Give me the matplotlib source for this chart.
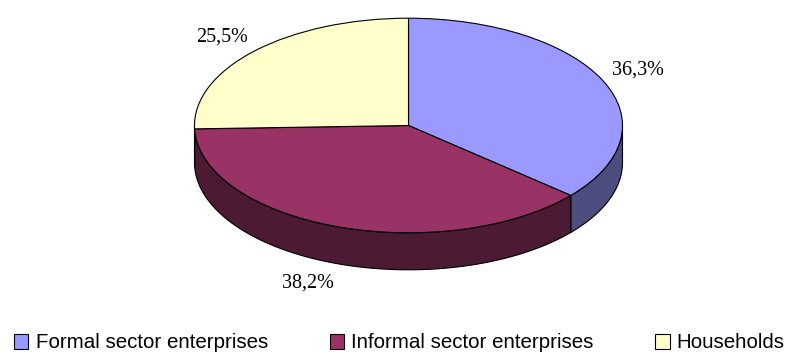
import numpy as np
import matplotlib
matplotlib.use("Agg")
import matplotlib.pyplot as plt
from matplotlib.patches import Polygon

# ---- data ----
categories = ["Formal sector enterprises", "Informal sector enterprises", "Households"]
values = [36.3, 38.2, 25.5]
top_colors = ["#9999FF", "#993366", "#FFFFCC"]
side_colors = ["#4D4D80", "#4D1A33", "#80806A"]
pct_labels = [f"{v:.1f}%".replace(".", ",") for v in values]

W, H = 789, 353
fig = plt.figure(figsize=(W / 100, H / 100), dpi=100)
fig.patch.set_facecolor("white")

# pie axes: unit circle is mapped onto the top ellipse
cx, cy, rx, ry = 408.5, 125.5, 214.0, 107.3
ax = fig.add_axes([(cx - rx) / W, (H - (cy + ry)) / H, 2 * rx / W, 2 * ry / H])
depth = 37.0 / ry  # thickness of the 3D disc in data units

wedges, _ = ax.pie(values, colors=top_colors, startangle=90, counterclock=False,
                   radius=1.0, frame=False,
                   wedgeprops=dict(edgecolor="black", linewidth=0.8))
ax.set_aspect("auto")
ax.set_xlim(-1, 1)
ax.set_ylim(-1, 1)
ax.axis("off")
for w in wedges:
    w.set_zorder(3)
    w.set_clip_on(False)

# side (front) faces of the disc
for w, sc in zip(wedges, side_colors):
    t1, t2 = w.theta1, w.theta2
    for k in (-360, 0, 360):
        a = max(t1, -180 + k)
        b = min(t2, 0 + k)
        if b - a > 1e-6:
            t = np.radians(np.linspace(a, b, 200))
            top = np.column_stack([np.cos(t), np.sin(t)])
            bot = np.column_stack([np.cos(t[::-1]), np.sin(t[::-1]) - depth])
            poly = Polygon(np.vstack([top, bot]), closed=True, facecolor=sc,
                           edgecolor="black", linewidth=0.8, zorder=2, clip_on=False)
            ax.add_patch(poly)

# percentage labels
for w, lab in zip(wedges, pct_labels):
    mid = np.radians((w.theta1 + w.theta2) / 2)
    c, s = np.cos(mid), np.sin(mid)
    y = s - (depth if s < 0 else 0)
    gap = 7.2
    ax.annotate(lab, xy=(c, y), xytext=(gap * c, gap * s - (2 if s > 0 else 0)),
                textcoords="offset points",
                ha="left" if c > 0 else "right", va="bottom" if s > 0 else "top",
                fontsize=14.5, family="Liberation Serif", annotation_clip=False)

# legend
fig.legend(wedges, categories, loc="lower left", bbox_to_anchor=(14 / W, 0.5 / H),
           ncol=3, frameon=False, prop=dict(family="Liberation Sans", size=14.8),
           handlelength=0.7, handleheight=0.7, handletextpad=0.35,
           columnspacing=3.0, borderpad=0, borderaxespad=0)

fig.savefig("out.png", dpi=100, facecolor="white")
